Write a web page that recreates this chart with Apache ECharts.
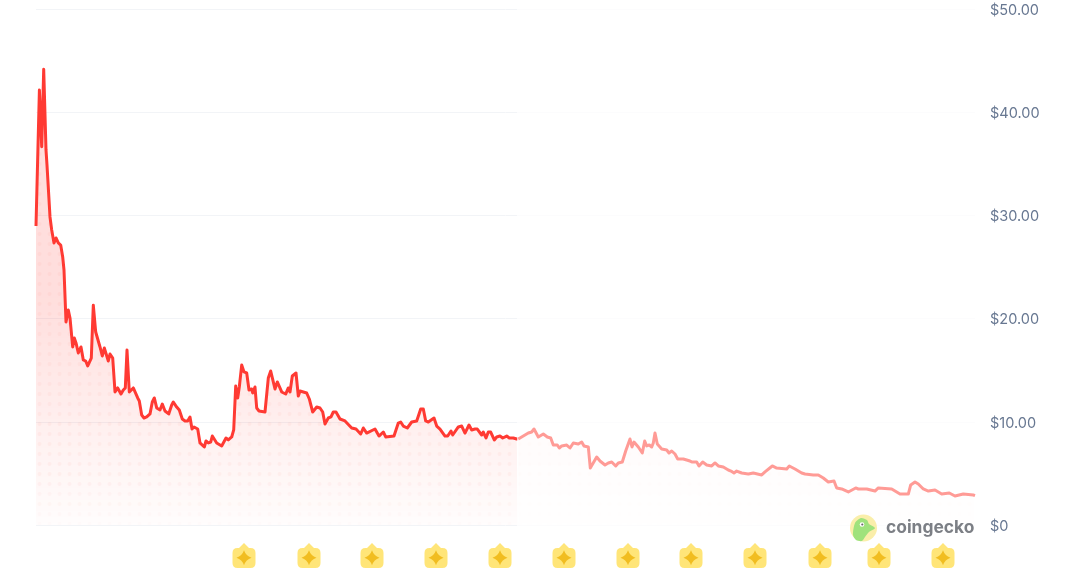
<!DOCTYPE html>
<html><head><meta charset="utf-8">
<style>html,body{margin:0;padding:0;background:#fff}#c{width:1085px;height:573px}</style>
<script src="https://cdn.jsdelivr.net/npm/echarts@6/dist/echarts.min.js"></script>
</head><body><div id="c"></div>
<script>
const days = [0,1.5,3.4,5.7,7.7,10,11,14,15.7,18,20,22.3,24.7,26.7,28,30,32.3,34,36.7,38.3,40,42.3,45,47.3,49.7,51.7,53.3,55.3,57.3,59.7,61.3,64,66.3,68.3,70,72.3,74,76.7,79,81.7,83,85,87.3,89.3,91,93.3,97.3,99.3,101.7,103.3,105.7,108,110.7,114,116.3,118.3,120.7,122.3,124,126.3,129,132.7,135.7,137.3,140.7,143.3,146.3,149,151.7,153,154,156,158,161.7,164,168.3,170,172.3,174.7,176.3,180.7,185.7,187.3,190,192.3,195.7,197.7,199.7,201.7,203.3,205.7,208,210.7,213,215.7,216.7,219,220.7,223,224.7,229,232.3,234.7,237.3,239,241.3,245.7,249.7,252.3,254,256.3,260,262.3,264,270.7,273.3,276.7,280.7,284,286.7,289,292.3,295,297.3,300,304,309,315.7,320,324.7,327.3,330.7,339,343,347.3,349.7,358,362.3,364.7,367.3,371.3,375.7,380.7,384.7,387.3,389.7,392.3,398,400.7,404,409,411.7,415,416.7,422.3,425.7,429,433,435.7,439,441.3,445.7,447.3,450,452.3,454.7,458.3,460.7,464,466.7,470.7,473.3,477.3,480.7,482.3,487.3,492.3,495.7,498,502.3,507.3,511.3,514.7,517.3,521.3,523.3,525.7,530.7,534,537.3,542.3,545.7,548,550,552.3,554.3,560.7,564,569,572.3,575.7,579.7,582.3,586.3,589.7,591.7,594,596,598,602.3,606.3,608.7,610.7,613.3,615.7,617.3,619,621.3,625.7,630.7,633,635.7,639,641.7,647.3,649,654,656.3,660.7,663,666.7,670.7,675.7,679,682.3,687.3,692.3,695,698,700.7,705.7,712.3,717.3,725.7,729,736.3,740.7,750.7,753.3,759,765.7,769,777.3,782.3,787.3,792.3,798,800.7,805.7,812.3,819.7,822.3,830.7,832.3,839,842.3,855.7,864,872.3,874.7,879,882.3,887.3,892.3,899,905.7,913.3,919,927.3,937.3,939];
const prices = [28.97,28.97,42.15,36.66,44.15,36.34,34.88,29.85,28.59,27.33,27.81,27.33,27.13,25.97,24.71,19.67,20.83,20.06,17.25,18.12,17.64,16.67,17.25,15.99,15.89,15.41,15.41,16.18,21.3,18.7,18.8,17.25,16.38,17.15,17.15,15.89,16.57,16.18,12.89,13.28,13.28,12.69,13.08,13.28,16.95,12.89,13.28,13.18,12.31,12.02,10.66,10.37,10.47,10.76,11.92,12.31,11.34,11.43,11.14,11.72,11.05,10.76,11.63,11.92,11.43,11.14,10.27,10.08,10.08,9.98,10.47,9.3,9.5,9.3,7.95,7.56,8.14,7.95,8.04,8.62,7.95,7.66,7.56,8.43,8.24,8.53,9.21,13.47,12.31,13.37,15.5,14.83,14.73,13.08,13.18,12.79,13.37,11.34,11.05,11.24,10.95,14.24,14.92,13.86,13.18,13.86,12.89,12.69,13.28,12.89,14.44,14.73,12.5,12.98,12.79,12.21,10.95,11.43,11.34,10.95,9.79,10.37,10.47,10.95,10.95,10.27,10.08,9.4,9.3,8.82,9.4,8.91,9.3,8.62,9.01,8.53,8.62,9.88,9.98,9.59,9.4,9.98,10.08,11.24,11.24,10.08,9.98,10.37,9.59,9.3,8.62,8.62,9.11,8.72,9.5,9.59,8.91,9.69,9.21,9.3,9.3,8.72,9.01,8.43,9.01,9.01,8.24,8.53,8.62,8.43,8.62,8.43,8.43,8.33,8.33,8.62,8.91,9.01,9.3,8.53,8.82,8.53,8.43,7.75,7.75,7.46,7.66,7.75,7.46,7.95,7.85,8.04,7.66,7.85,7.56,5.52,6.59,6.2,5.81,6.01,6.1,5.72,6.01,6.1,7.17,7.36,8.33,7.56,8.04,7.56,6.98,8.14,7.66,7.75,7.56,7.95,8.91,7.85,7.36,7.27,6.98,7.17,6.88,6.4,6.4,6.49,6.2,6.1,6.1,5.72,6.1,5.81,5.72,6.01,5.72,5.62,5.33,5.23,5.04,5.23,5.04,4.94,5.04,4.85,5.14,5.72,5.52,5.43,5.72,5.43,5.04,4.94,4.85,4.85,4.55,4.17,4.26,3.59,3.49,3.2,3.59,3.49,3.49,3.59,3.29,3.59,3.49,3,3,3.88,4.17,3.97,3.49,3.29,3.39,3,3.1,2.81,3,2.91,2.85];
const eventDays = [208,273,336,400,464,528,592,655,719,784,843,907];
const todayDay = 481;
const lastDay = 939;
const yTicks = {0:'$0',10:'$10.00',20:'$20.00',30:'$30.00',40:'$40.00',50:'$50.00'};
const points = days.map((d,i)=>[d,prices[i]]);

// area fill: fading red wash with a dotted texture
function fillPattern(){
  const cv = document.createElement('canvas');
  cv.width = 10; cv.height = 573;
  const g = cv.getContext('2d');
  for (let y = 0; y < 573; y++) {
    const a = Math.max(0, Math.min(0.17, 0.00068 * (525 - y) + 0.012));
    g.fillStyle = 'rgba(255,58,51,' + a + ')';
    g.fillRect(0, y, 10, 1);
  }
  for (let y = 4; y < 530; y += 10) {
    const a = Math.min(0.045, 0.0006 * (528 - y) + 0.012);
    g.fillStyle = 'rgba(255,58,51,' + a + ')';
    g.beginPath(); g.arc(9.5, y, 2, 0, Math.PI * 2); g.fill();
    g.beginPath(); g.arc(-0.5, y, 2, 0, Math.PI * 2); g.fill();
  }
  return cv;
}

const badge = 'path://M11.5 0 L16.5 5 H18 Q23 5 23 10 V20 Q23 25 18 25 H5 Q0 25 0 20 V10 Q0 5 5 5 H6.5 Z';
const star = 'path://M6 0 Q7.5 4.5 12 6 Q7.5 7.5 6 12 Q4.5 7.5 0 6 Q4.5 4.5 6 0 Z';

const chart = echarts.init(document.getElementById('c'), null, {renderer:'canvas'});
chart.setOption({
  animation:false,
  backgroundColor:'#fff',
  grid:[
    {left:36, top:9, width:939, height:516},
    {left:36, top:543, width:939, height:25}
  ],
  xAxis:[
    {type:'value', min:0, max:lastDay, show:false, gridIndex:0},
    {type:'value', min:0, max:lastDay, show:false, gridIndex:1}
  ],
  yAxis:[
    {type:'value', min:0, max:50, interval:10, position:'right', gridIndex:0,
     axisLine:{show:false}, axisTick:{show:false},
     splitLine:{show:true, lineStyle:{color:'#f2f4f7', width:1}},
     axisLabel:{margin:15, color:'#677791', fontFamily:'Inter', fontSize:14.5, verticalAlign:'top', lineHeight:3, formatter:v=>yTicks[v]}},
    {type:'value', min:0, max:1, show:false, gridIndex:1}
  ],
  series:[
    {type:'line', z:2, data:points.filter(p=>p[0]<=todayDay+1.5), showSymbol:false, symbol:'none',
     lineStyle:{color:'#ff3a33', width:3, join:'round'},
     areaStyle:{color:{image:fillPattern(), repeat:'repeat'}, opacity:1}},
    {type:'line', z:2, data:points.filter(p=>p[0]>=todayDay), showSymbol:false, symbol:'none',
     lineStyle:{width:0},
     areaStyle:{color:{image:fillPattern(), repeat:'repeat'}, opacity:1},
     markArea:{silent:true, z:10, itemStyle:{color:'rgba(255,255,255,0.75)'},
       data:[[{xAxis:todayDay, y:0},{xAxis:lastDay, y:540}]]}},
    {type:'line', z:12, data:points.filter(p=>p[0]>=todayDay), showSymbol:false, symbol:'none',
     lineStyle:{color:'#ff9b96', width:3, join:'round'}},
    {type:'scatter', xAxisIndex:1, yAxisIndex:1, z:3, symbol:badge, symbolSize:[23,25], silent:true,
     itemStyle:{color:'#ffdf56'}, data:eventDays.map(d=>[d,0.5])},
    {type:'scatter', xAxisIndex:1, yAxisIndex:1, z:4, symbol:star, symbolSize:15, silent:true,
     itemStyle:{color:'#edb30a'}, data:eventDays.map(d=>[d,0.41])}
  ],
  graphic:[
    {type:'circle', z:20, shape:{cx:863.5, cy:528, r:13.5}, style:{fill:'#faeeaa'}},
    {type:'polygon', z:21, shape:{smooth:0.25, points:[[853,535],[855,523],[861,518],[867,520],[869,524],[875,528],[869,532],[865,537],[862,541],[856,540]]}, style:{fill:'#9fe27c'}},
    {type:'circle', z:22, shape:{cx:862, cy:524.5, r:2.3}, style:{fill:'#fff'}},
    {type:'circle', z:23, shape:{cx:862.3, cy:524.5, r:1.1}, style:{fill:'#666'}},
    {type:'text', z:21, x:886, y:528, style:{text:'coingecko', fill:'#7c7f85', font:'700 17.4px Inter', verticalAlign:'middle', align:'left'}}
  ]
});
</script></body></html>
